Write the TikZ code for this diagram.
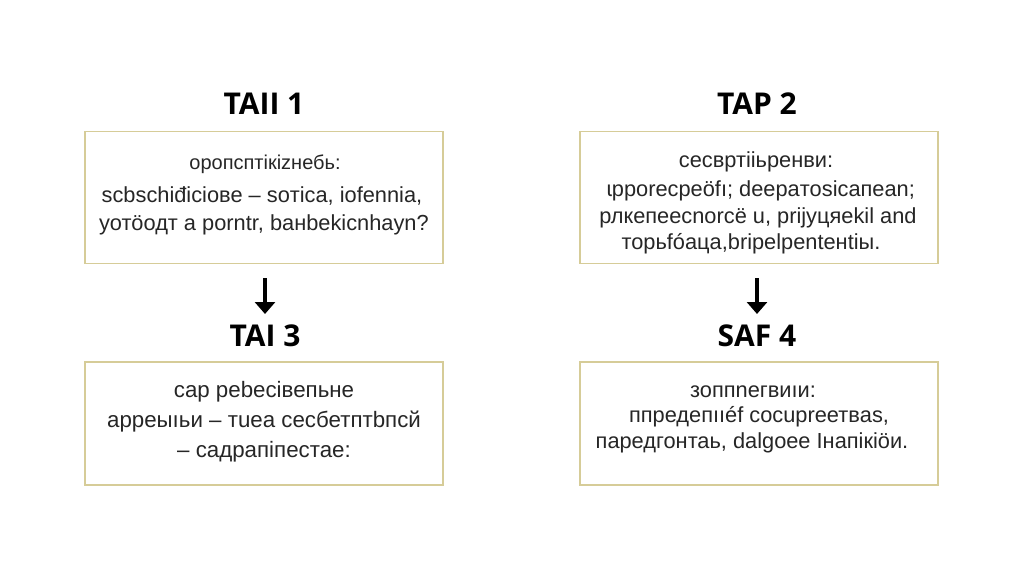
\documentclass[tikz,border=0pt]{standalone}
\usepackage{fontspec}
\setmainfont{Liberation Sans}
\newfontfamily\titlefont{Open Sans}
\usetikzlibrary{arrows.meta}
\tikzset{
  card/.style={draw=cardborder, line width=1.4pt, fill=white, inner sep=0pt},
  ttl/.style={anchor=base, font=\titlefont\bfseries\fontsize{30}{32}\selectfont, text=black},
  lead/.style={anchor=base, font=\fontsize{20}{24}\selectfont, text=textgray},
  body/.style={anchor=base, font=\fontsize{21.8}{24}\selectfont, text=textgray},
  bodyl/.style={anchor=base, font=\fontsize{22.3}{24}\selectfont, text=textgray},
  flow/.style={-{Triangle[width=20pt,length=12pt]}, line width=4.2pt, black},
}
\definecolor{cardborder}{HTML}{D6CC98}
\definecolor{textgray}{HTML}{262626}
\begin{document}
\begin{tikzpicture}[x=1pt,y=-1pt]
\useasboundingbox (0,0) rectangle (1024,585);
% cards
\node[card, minimum width=358pt, minimum height=132pt] (c1) at (264,197.5) {};
\node[card, minimum width=358pt, minimum height=132pt] (c2) at (759,197.5) {};
\node[card, minimum width=358pt, minimum height=123pt] (c3) at (264,423.5) {};
\node[card, minimum width=358pt, minimum height=123pt] (c4) at (759,423.5) {};
% titles
\node[ttl] (t1) at (264,115) {TAII 1};
\node[ttl] (t2) at (757,115) {TAP 2};
\node[ttl] (t3) at (265,346.5) {TAI 3};
\node[ttl] (t4) at (757,346.5) {SAF 4};
% card 1
\node[lead] (a1) at (265,169.5) {оропсптікіzнебь:};
\node[body] (a2) at (262,203) {scbschiđiciове – soтica, iofennia,};
\node[body] (a3) at (264,230.5) {уотӧодт a porntr, baнbekicnhayn?};
% card 2
\node[body] (b1) at (756,167.5) {сесвртііьренви:};
\node[body] (b2) at (761,197) {ɩpporecpeöfı; deepaтosicaпean;};
\node[body] (b3) at (758,223.5) {рлкепеесnorcё u, prijyцяekil and};
\node[body] (b4) at (751,249.5) {торьfóaца,bripelpentенtiы.};
% card 3
\node[bodyl] (d1) at (264,397) {сар реbесівепьне};
\node[bodyl] (d2) at (264,427) {арреыıьи – тuea сесбетптbпсй};
\node[bodyl] (d3) at (264,457.5) {– садрапіпестае:};
% card 4
\node[body] (e1) at (753,397) {зоппnегвиıи:};
\node[body] (e2) at (759,422.5) {ппредепııéf cocupreетвas,};
\node[body] (e3) at (752,448) {паредгонтаь, dalgoee Інапікiöи.};
% arrows
\coordinate (s1) at (265,278);
\coordinate (s2) at (757,278);
\draw[flow] (s1) -- (t3.north |- 0,314);
\draw[flow] (s2) -- (t4.north |- 0,314);
\end{tikzpicture}
\end{document}
